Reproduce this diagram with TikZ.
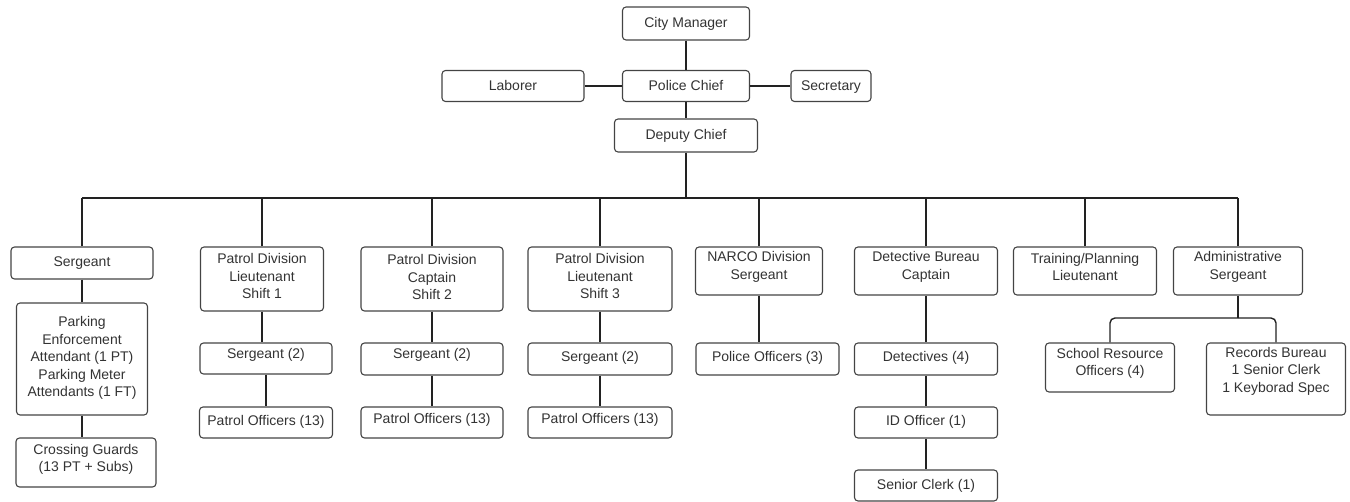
\documentclass[tikz,border=0pt]{standalone}
\usepackage{fontspec}
\setmainfont{Liberation Sans}
\definecolor{boxline}{HTML}{444444}
\definecolor{wire}{HTML}{222222}
\definecolor{ink}{HTML}{333333}
\begin{document}
\begin{tikzpicture}[x=1pt,y=-1pt,
  box/.style={draw=boxline, line width=1.1pt, rounded corners=3.5pt, fill=white,
    inner sep=0pt},
  wh/.style 2 args={minimum width=#1pt, minimum height=#2pt},
  txt/.style={inner sep=0pt, align=center, text=ink,
    font=\fontsize{14}{17.5}\selectfont},
  % text of a box, raised by #1 pt above the box centre
  say/.style 2 args={label={[txt, yshift=#1pt]center:{#2}}},
  link/.style={draw=wire, line width=1.4pt}]
\useasboundingbox (0,0) rectangle (1350,502);

% executive level
\node[box, wh={127}{33}, say={0}{City Manager}]  (cm)  at (686,23.5) {};
\node[box, wh={127}{31}, say={0}{Police Chief}]  (pc)  at (686,86) {};
\node[box, wh={142}{31}, say={0}{Laborer}]       (lab) at (513,86)   {};
\node[box, wh={80}{31},  say={-1}{Secretary}]    (sec) at (831,86)   {};
\node[box, wh={143}{33}, say={0}{Deputy Chief}]  (dc)  at (686,135.5) {};
\coordinate (bus) at (686,198);

% division heads
\node[box, wh={142}{32}, say={0}{Sergeant}] (sg) at (82,263) {};
\node[box, wh={123}{64}, say={3}{Patrol Division\\Lieutenant\\Shift 1}] (p1) at (262,279) {};
\node[box, wh={142}{64}, say={2}{Patrol Division\\Captain\\Shift 2}]    (p2) at (432,279) {};
\node[box, wh={144}{64}, say={3}{Patrol Division\\Lieutenant\\Shift 3}] (p3) at (600,279) {};
\node[box, wh={127}{48}, say={4}{NARCO Division\\Sergeant}]      (nr) at (759,271)  {};
\node[box, wh={143}{48}, say={4}{Detective Bureau\\Captain}]     (db) at (926,271)  {};
\node[box, wh={143}{48}, say={4}{Training/Planning\\Lieutenant}] (tr) at (1085,271) {};
\node[box, wh={129}{48}, say={4}{Administrative\\Sergeant}]      (ad) at (1238,271) {};

% staff under each head
\node[box, wh={131}{112}, say={1}{Parking\\Enforcement\\Attendant (1 PT)\\Parking Meter\\Attendants (1 FT)}] (pk) at (82,359) {};
\node[box, wh={140}{49}, say={3}{Crossing Guards\\(13 PT + Subs)}] (cg) at (86,462.5) {};

\node[box, wh={132}{31}, say={4}{Sergeant (2)}]        (s1) at (266,358.5) {};
\node[box, wh={133}{31}, say={1}{Patrol Officers (13)}] (o1) at (266,422.5) {};
\node[box, wh={142}{32}, say={4}{Sergeant (2)}]        (s2) at (432,359)   {};
\node[box, wh={142}{31}, say={3}{Patrol Officers (13)}] (o2) at (432,422.5) {};
\node[box, wh={144}{32}, say={1}{Sergeant (2)}]        (s3) at (600,359)   {};
\node[box, wh={144}{31}, say={3}{Patrol Officers (13)}] (o3) at (600,422.5) {};

\node[box, wh={143}{32}, say={1}{Police Officers (3)}] (po) at (767.5,359) {};

\node[box, wh={143}{32}, say={1}{Detectives (4)}]   (dt) at (926,359)   {};
\node[box, wh={143}{31}, say={1}{ID Officer (1)}]   (id) at (926,422.5) {};
\node[box, wh={143}{31}, say={0}{Senior Clerk (1)}] (sc) at (926,485.5) {};

\node[box, wh={129}{49}, say={4}{School Resource\\Officers (4)}] (sr) at (1110,367.5) {};
\node[box, wh={139}{72}, say={8}{Records Bureau\\1 Senior Clerk\\1 Keyborad Spec}] (rb) at (1276,379) {};
\coordinate (sub) at (1238,318);

% connectors: top
\draw[link] (cm) -- (pc);
\draw[link] (pc) -- (lab);
\draw[link] (pc) -- (sec);
\draw[link] (pc) -- (dc);
\draw[link] (dc) -- (bus);

% main bus and the drops to the division heads
\draw[link] (sg.north |- bus) -- (ad.north |- bus);
\foreach \n in {sg,p1,p2,p3,nr,db,tr,ad}
  \draw[link] (\n.north) -- (\n.north |- bus);

% connectors: chains below heads
\draw[link] (sg) -- (pk);
\draw[link] (pk) -- (pk |- cg.north);
\draw[link] (p1) -- (p1 |- s1.north);
\draw[link] (s1) -- (o1);
\draw[link] (p2) -- (s2);
\draw[link] (s2) -- (o2);
\draw[link] (p3) -- (s3);
\draw[link] (s3) -- (o3);
\draw[link] (nr) -- (nr |- po.north);
\draw[link] (db) -- (dt);
\draw[link] (dt) -- (id);
\draw[link] (id) -- (sc);

% connectors: administrative branch
\draw[link] (ad) -- (sub);
\draw[link, rounded corners=5pt] (sr.north) |- (sub);
\draw[link, rounded corners=5pt] (rb.north) |- (sub);
\end{tikzpicture}
\end{document}
